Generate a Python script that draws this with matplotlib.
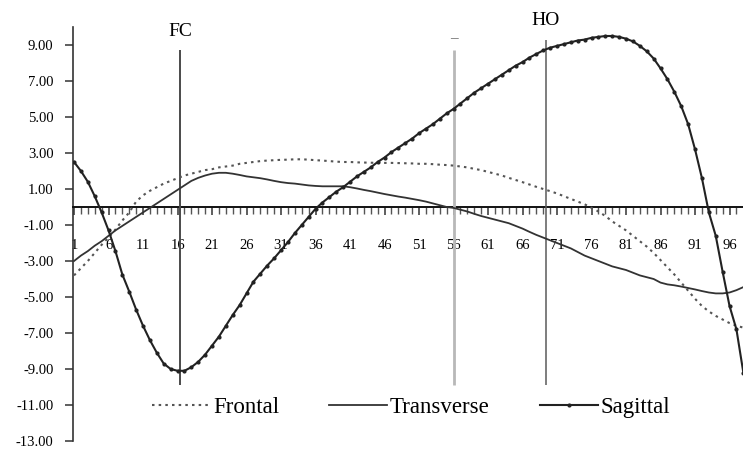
import matplotlib
matplotlib.use("Agg")
import matplotlib.pyplot as plt
import numpy as np
from matplotlib.ticker import FixedLocator, FuncFormatter

plt.rcParams["font.family"] = ["Liberation Serif", "DejaVu Serif"]
plt.rcParams["axes.unicode_minus"] = False

# gait cycle points 1..98 (figure is cropped at the right)
points = np.arange(1, 99)

frontal = [
    -3.8, -3.4, -3.0, -2.55, -2.1, -1.7, -1.25, -0.75, -0.3, 0.3,
    0.65, 0.9, 1.1, 1.3, 1.45, 1.6, 1.75, 1.85, 1.95, 2.05,
    2.1, 2.2, 2.25, 2.3, 2.4, 2.45, 2.5, 2.55, 2.58, 2.6,
    2.62, 2.63, 2.65, 2.65, 2.63, 2.6, 2.58, 2.55, 2.52, 2.5,
    2.5, 2.48, 2.47, 2.46, 2.45, 2.45, 2.45, 2.44, 2.43, 2.42,
    2.4, 2.4, 2.38, 2.35, 2.33, 2.3, 2.25, 2.2, 2.12, 2.05,
    1.95, 1.85, 1.75, 1.62, 1.5, 1.38, 1.25, 1.12, 1.0, 0.88,
    0.75, 0.6, 0.45, 0.3, 0.15, -0.05, -0.25, -0.5, -0.8, -1.05,
    -1.3, -1.6, -1.9, -2.2, -2.55, -2.95, -3.35, -3.75, -4.2, -4.65,
    -5.1, -5.5, -5.8, -6.05, -6.25, -6.45, -6.6, -6.7,
]

transverse = [
    -3.0, -2.7, -2.45, -2.15, -1.9, -1.6, -1.3, -1.05, -0.8, -0.55,
    -0.3, -0.05, 0.2, 0.45, 0.7, 0.95, 1.2, 1.45, 1.62, 1.75,
    1.85, 1.9, 1.9, 1.85, 1.78, 1.7, 1.65, 1.6, 1.53, 1.45,
    1.38, 1.33, 1.3, 1.25, 1.2, 1.17, 1.15, 1.15, 1.15, 1.15,
    1.1, 1.03, 0.95, 0.88, 0.8, 0.72, 0.65, 0.58, 0.52, 0.45,
    0.38, 0.3, 0.2, 0.1, 0.0, -0.05, -0.15, -0.25, -0.38, -0.5,
    -0.6, -0.7, -0.8, -0.9, -1.05, -1.2, -1.38, -1.55, -1.7, -1.85,
    -2.0, -2.15, -2.3, -2.5, -2.7, -2.85, -3.0, -3.15, -3.3, -3.4,
    -3.5, -3.65, -3.8, -3.9, -4.0, -4.2, -4.3, -4.35, -4.42, -4.5,
    -4.58, -4.67, -4.75, -4.8, -4.8, -4.75, -4.62, -4.45,
]

sagittal = [
    2.5, 2.0, 1.4, 0.6, -0.3, -1.3, -2.45, -3.75, -4.7, -5.7,
    -6.6, -7.4, -8.1, -8.7, -9.0, -9.1, -9.1, -8.9, -8.6, -8.2,
    -7.7, -7.2, -6.6, -6.0, -5.45, -4.8, -4.15, -3.7, -3.25, -2.85,
    -2.4, -1.95, -1.45, -1.0, -0.55, -0.1, 0.25, 0.55, 0.85, 1.1,
    1.4, 1.7, 1.95, 2.2, 2.5, 2.75, 3.05, 3.3, 3.55, 3.8,
    4.1, 4.35, 4.6, 4.9, 5.2, 5.45, 5.75, 6.05, 6.35, 6.6,
    6.85, 7.1, 7.35, 7.6, 7.85, 8.05, 8.3, 8.5, 8.7, 8.85,
    8.95, 9.05, 9.15, 9.25, 9.3, 9.4, 9.45, 9.5, 9.5, 9.45,
    9.35, 9.2, 8.95, 8.65, 8.25, 7.7, 7.1, 6.4, 5.6, 4.6,
    3.2, 1.6, -0.3, -1.6, -3.6, -5.5, -6.8, -9.2,
]

# gait events: label, position, line top value
event_labels = ["FC", "\u2013", "HO"]
event_points = [16.4, 56.0, 69.4]
event_tops = [8.7, 8.7, 9.3]
event_colors = ["#4a4a4a", "#b8b8b8", "#5a5a5a"]
event_widths = [1.4, 2.0, 1.1]

y_ticks = np.arange(-13, 10, 2)
x_label_points = np.arange(1, 99, 5)

fig = plt.figure(figsize=(7.43, 4.51), dpi=100)
ax = fig.add_axes([73 / 743, 10 / 451, 670 / 743, 414 / 451])

ax.plot(points, frontal, color="#555555", linestyle=(0, (1.2, 2.0)), linewidth=1.5,
        label="Frontal", zorder=4)
ax.plot(points, transverse, color="#333333", linewidth=1.3, label="Transverse", zorder=4)
ax.plot(points, sagittal, color="#222222", linewidth=1.5, marker="o", markersize=2.0,
        label="Sagittal", zorder=4)

for lab, xp, top, col, lw in zip(event_labels, event_points, event_tops, event_colors, event_widths):
    ax.vlines(xp, -9.9, top, color=col, linewidth=lw, zorder=3)
    if lab == "\u2013":
        ax.text(xp, top + 0.3, lab, ha="center", va="bottom", fontsize=11, color="#666666")
    else:
        ax.text(xp, top + 0.6, lab, ha="center", va="bottom", fontsize=14, clip_on=False)

ax.set_xlim(0.85, 97.95)
ax.set_ylim(-13, 10)

ax.spines["top"].set_visible(False)
ax.spines["right"].set_visible(False)
ax.spines["bottom"].set_position(("data", 0))
ax.spines["bottom"].set_linewidth(1.4)
ax.spines["bottom"].set_color("#111111")
ax.spines["left"].set_linewidth(1.2)
ax.spines["left"].set_color("#333333")

ax.set_yticks(y_ticks)
ax.yaxis.set_major_formatter(FuncFormatter(lambda v, p: f"{v:.2f}"))
ax.tick_params(axis="y", direction="out", length=6, width=1.1, pad=8, labelsize=10.5,
               color="#333333")

ax.xaxis.set_major_locator(FixedLocator(x_label_points))
ax.xaxis.set_minor_locator(FixedLocator(points))
ax.set_xticklabels([str(p) for p in x_label_points])
ax.tick_params(axis="x", which="major", direction="out", length=6, width=1.1, pad=17,
               labelsize=10.5, color="#333333")
ax.tick_params(axis="x", which="minor", direction="out", length=5, width=1.0, color="#555555")

ax.legend(loc="center", bbox_to_anchor=(0.505, 0.082), ncol=3, frameon=False, fontsize=16.5,
          handlelength=2.5, handletextpad=0.15, columnspacing=2.2, numpoints=1)

fig.savefig("out.png", dpi=100, facecolor="white")
